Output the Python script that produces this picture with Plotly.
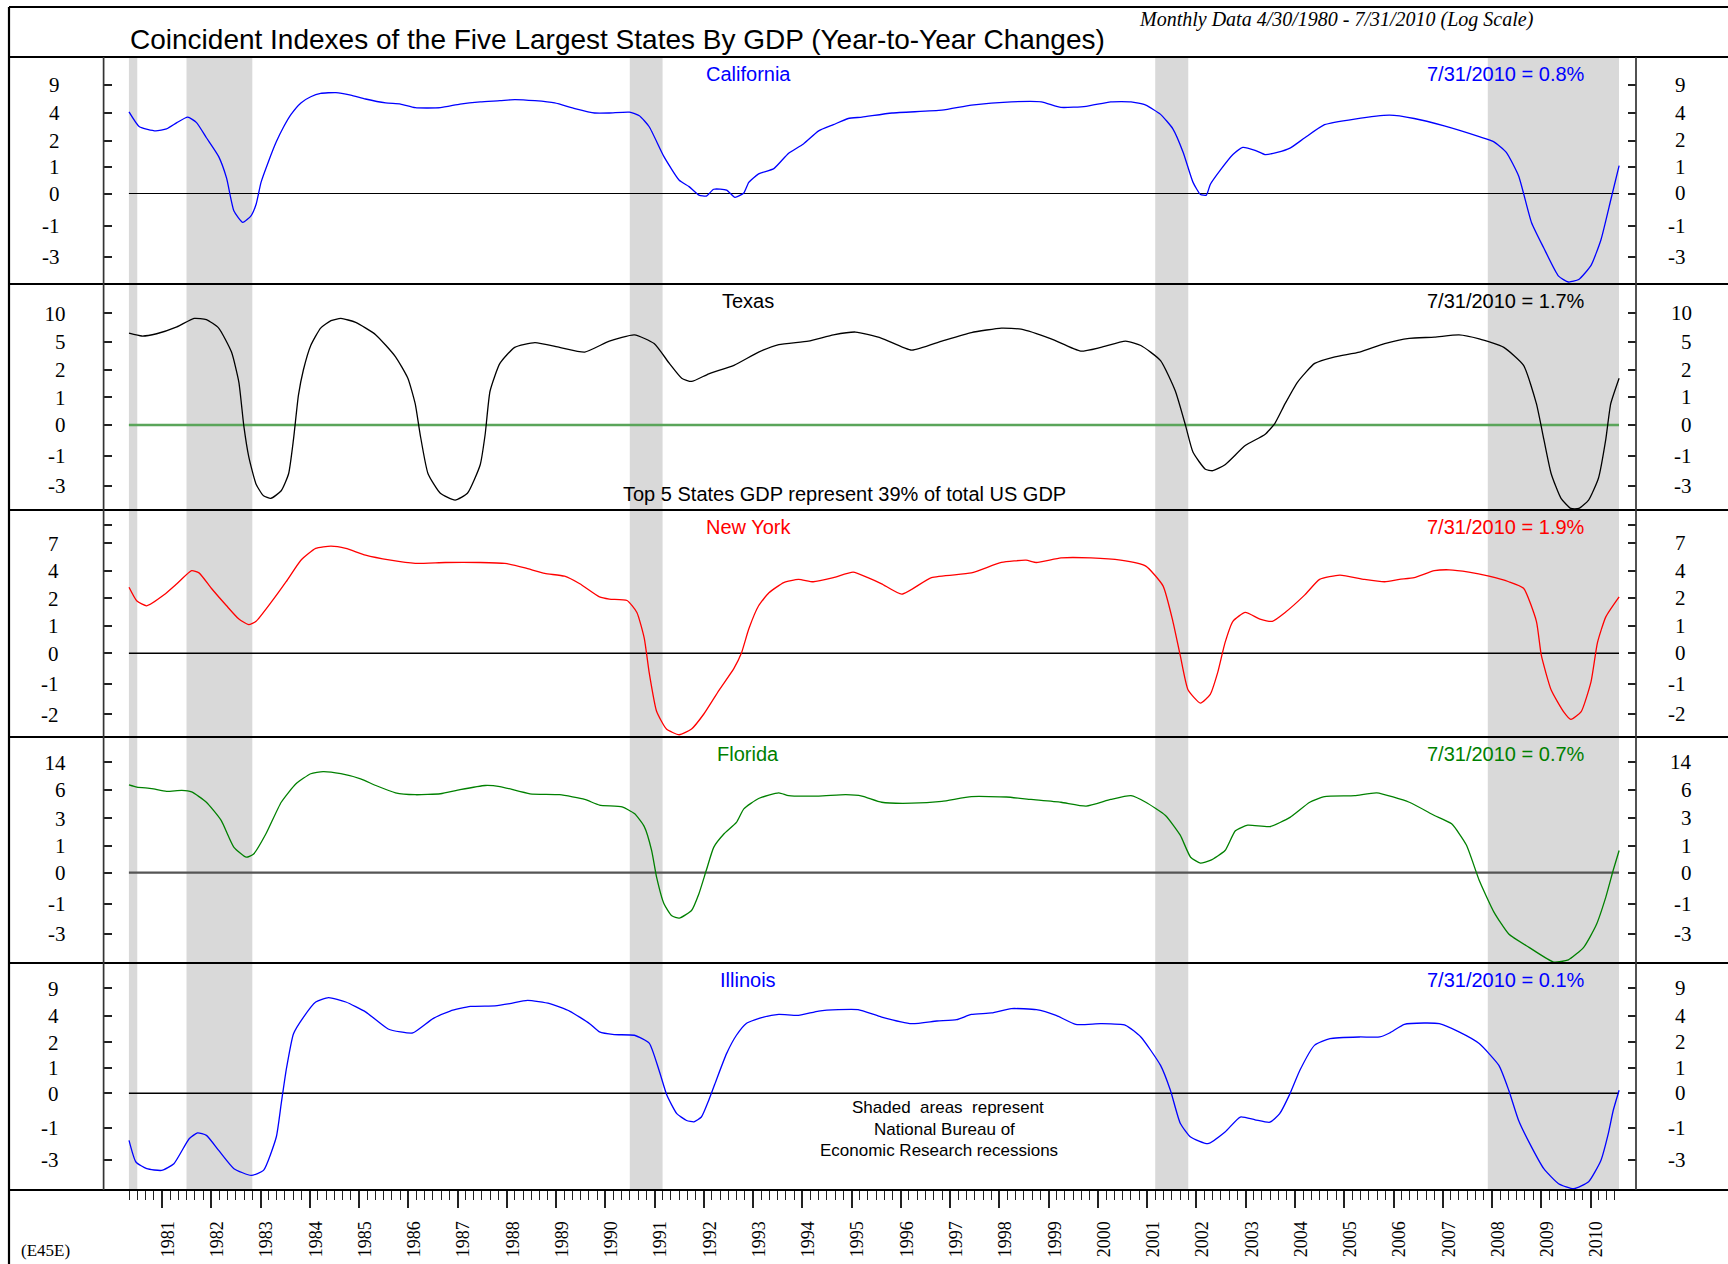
import numpy as np
import pandas as pd
import plotly.graph_objects as go

# ---------------- values: decimal year -> y/y % change ----------------
CA_YEAR = [1980.33, 1980.54, 1980.87, 1981.09, 1981.30, 1981.52, 1981.70, 1981.90, 1982.15, 1982.31,
           1982.46, 1982.64, 1982.81, 1982.91, 1983.01, 1983.16, 1983.32, 1983.47, 1983.62, 1983.82,
           1984.02, 1984.22, 1984.53, 1984.83, 1985.13, 1985.54, 1985.84, 1986.14, 1986.65, 1987.05,
           1987.46, 1987.86, 1988.16, 1988.57, 1988.97, 1989.38, 1989.78, 1990.08, 1990.49, 1990.69,
           1990.89, 1991.19, 1991.50, 1991.70, 1991.90, 1992.05, 1992.20, 1992.46, 1992.63, 1992.81,
           1992.91, 1993.11, 1993.42, 1993.72, 1994.02, 1994.33, 1994.63, 1994.93, 1995.21, 1995.82,
           1996.83, 1997.43, 1998.24, 1998.85, 1999.25, 1999.76, 2000.26, 2000.67, 2000.97, 2001.27,
           2001.52, 2001.73, 2001.93, 2002.08, 2002.20, 2002.28, 2002.48, 2002.74, 2002.94, 2003.19,
           2003.39, 2003.64, 2003.90, 2004.20, 2004.60, 2005.21, 2005.92, 2006.42, 2007.03, 2007.74,
           2008.04, 2008.29, 2008.54, 2008.80, 2009.05, 2009.35, 2009.55, 2009.76, 2010.01, 2010.21,
           2010.41, 2010.58]
CA_VALUE = [4.2, 3.0, 2.7, 2.85, 3.3, 3.7, 3.3, 2.2, 1.39, 0.58,
            -0.54, -0.89, -0.68, -0.33, 0.42, 1.2, 1.95, 3.0, 3.9, 5.8,
            6.9, 7.5, 7.65, 7.2, 6.5, 5.8, 5.6, 4.95, 4.95, 5.6,
            6.0, 6.2, 6.4, 6.2, 5.8, 4.8, 4.0, 4.0, 4.15, 3.8,
            3.0, 1.39, 0.5, 0.26, -0.05, -0.08, 0.16, 0.13, -0.12, 0.02,
            0.42, 0.74, 0.94, 1.52, 1.87, 2.7, 3.15, 3.6, 3.7, 4.0,
            4.5, 5.4, 6.0, 6.0, 5.0, 5.2, 6.0, 6.0, 5.4, 3.9,
            2.85, 1.55, 0.42, -0.03, -0.05, 0.34, 0.87, 1.47, 1.74, 1.63,
            1.47, 1.55, 1.71, 2.2, 3.15, 3.56, 3.84, 3.6, 3.06, 2.28,
            1.95, 1.55, 0.66, -0.89, -2.42, -5.3, -6.0, -5.7, -4.0, -1.9,
            -0.2, 1.05]

TX_YEAR = [1980.33, 1980.59, 1980.89, 1981.30, 1981.65, 1981.90, 1982.15, 1982.41, 1982.56, 1982.66,
           1982.76, 1982.91, 1983.06, 1983.21, 1983.42, 1983.57, 1983.67, 1983.77, 1983.87, 1984.02,
           1984.22, 1984.43, 1984.63, 1984.93, 1985.34, 1985.74, 1985.99, 1986.14, 1986.24, 1986.40,
           1986.65, 1986.95, 1987.20, 1987.46, 1987.56, 1987.66, 1987.86, 1988.16, 1988.57, 1989.07,
           1989.58, 1990.08, 1990.59, 1990.99, 1991.30, 1991.55, 1991.75, 1992.10, 1992.61, 1993.11,
           1993.52, 1994.12, 1994.63, 1995.08, 1995.61, 1996.22, 1996.83, 1997.43, 1998.04, 1998.44,
           1999.05, 1999.65, 2000.06, 2000.56, 2000.87, 2001.27, 2001.57, 2001.78, 2001.93, 2002.18,
           2002.33, 2002.58, 2002.99, 2003.39, 2003.59, 2003.80, 2004.05, 2004.40, 2004.81, 2005.31,
           2005.82, 2006.32, 2006.83, 2007.33, 2007.74, 2008.24, 2008.64, 2008.90, 2009.05, 2009.20,
           2009.40, 2009.60, 2009.76, 2009.96, 2010.16, 2010.31, 2010.41, 2010.58]
TX_VALUE = [6.5, 6.0, 6.4, 7.6, 9.1, 8.9, 7.4, 3.9, 1.55, -0.03,
            -1.06, -2.9, -4.2, -4.5, -3.6, -2.2, -0.46, 1.08, 2.0, 4.6,
            7.4, 8.7, 9.1, 8.4, 6.2, 3.4, 1.7, 0.76, -0.31, -2.2,
            -3.9, -4.7, -3.9, -1.6, -0.31, 1.23, 2.7, 4.4, 4.9, 4.4,
            3.9, 5.1, 6.2, 4.8, 2.7, 1.7, 1.58, 1.86, 2.5, 3.9,
            4.7, 5.1, 6.2, 6.7, 5.6, 4.1, 5.1, 6.6, 7.4, 7.2,
            5.5, 4.0, 4.4, 5.1, 4.6, 3.0, 1.23, -0.03, -0.89, -1.9,
            -2.0, -1.6, -0.67, -0.31, 0.05, 0.77, 1.55, 2.7, 3.4, 3.9,
            4.8, 5.6, 5.8, 6.2, 5.5, 4.4, 2.5, 0.77, -0.46, -2.2,
            -4.5, -5.7, -5.7, -4.7, -2.5, -0.46, 0.77, 1.7]

NY_YEAR = [1980.33, 1980.49, 1980.69, 1981.04, 1981.30, 1981.60, 1981.75, 1982.00, 1982.31, 1982.56,
           1982.76, 1982.91, 1983.21, 1983.52, 1983.82, 1984.12, 1984.43, 1984.73, 1985.13, 1985.64,
           1986.14, 1986.75, 1987.46, 1987.96, 1988.37, 1988.77, 1989.17, 1989.48, 1989.88, 1990.08,
           1990.44, 1990.64, 1990.79, 1990.89, 1991.04, 1991.24, 1991.50, 1991.75, 1992.00, 1992.31,
           1992.61, 1992.76, 1992.91, 1993.11, 1993.32, 1993.62, 1993.92, 1994.22, 1994.63, 1995.03,
           1995.33, 1995.61, 1996.02, 1996.62, 1997.43, 1998.04, 1998.54, 1998.75, 1999.25, 1999.86,
           2000.46, 2000.97, 2001.32, 2001.52, 2001.67, 2001.83, 2002.08, 2002.28, 2002.43, 2002.58,
           2002.74, 2002.99, 2003.29, 2003.54, 2003.80, 2004.20, 2004.50, 2004.91, 2005.41, 2005.82,
           2006.12, 2006.42, 2006.83, 2007.13, 2007.53, 2007.94, 2008.34, 2008.64, 2008.90, 2009.00,
           2009.20, 2009.45, 2009.60, 2009.81, 2010.01, 2010.14, 2010.31, 2010.58]
NY_VALUE = [2.8, 1.9, 1.73, 2.25, 3.05, 4.0, 3.84, 2.73, 1.73, 1.25,
            1.05, 1.17, 1.84, 3.2, 5.15, 6.45, 6.7, 6.45, 5.7, 5.15,
            4.8, 4.9, 4.9, 4.8, 4.3, 3.8, 3.6, 3.05, 2.1, 1.97,
            1.92, 1.49, 0.55, -0.63, -1.9, -2.97, -3.35, -2.97, -1.99, -1.2,
            -0.49, 0.0, 0.89, 1.73, 2.4, 3.14, 3.37, 3.2, 3.5, 3.9,
            3.5, 3.05, 2.3, 3.5, 3.84, 4.9, 5.15, 4.9, 5.4, 5.4,
            5.15, 4.5, 2.9, 1.17, -0.07, -1.2, -1.63, -1.34, -0.63, 0.39,
            1.17, 1.49, 1.25, 1.17, 1.49, 2.25, 3.37, 3.68, 3.37, 3.2,
            3.37, 3.5, 4.0, 4.1, 3.9, 3.6, 3.2, 2.73, 1.17, -0.07,
            -1.2, -1.91, -2.34, -1.91, -0.92, 0.39, 1.33, 2.1]

FL_YEAR = [1980.33, 1980.49, 1980.79, 1981.09, 1981.40, 1981.60, 1981.90, 1982.20, 1982.46, 1982.71,
           1982.86, 1983.11, 1983.42, 1983.72, 1984.02, 1984.27, 1984.63, 1985.03, 1985.34, 1985.74,
           1986.14, 1986.65, 1987.05, 1987.56, 1987.86, 1988.47, 1989.07, 1989.58, 1989.88, 1990.34,
           1990.59, 1990.79, 1990.94, 1991.04, 1991.19, 1991.35, 1991.50, 1991.75, 1991.90, 1992.05,
           1992.20, 1992.41, 1992.66, 1992.81, 1993.11, 1993.52, 1993.72, 1994.33, 1994.88, 1995.21,
           1995.61, 1996.22, 1996.83, 1997.43, 1998.14, 1998.64, 1999.25, 1999.76, 2000.26, 2000.67,
           2000.97, 2001.37, 2001.67, 2001.88, 2002.08, 2002.28, 2002.58, 2002.79, 2003.04, 2003.49,
           2003.90, 2004.30, 2004.60, 2005.21, 2005.66, 2006.32, 2006.83, 2007.18, 2007.48, 2007.74,
           2008.04, 2008.34, 2008.75, 2009.25, 2009.55, 2009.86, 2010.11, 2010.31, 2010.46, 2010.58]
FL_VALUE = [7.5, 6.85, 6.4, 5.86, 5.96, 5.8, 4.7, 2.85, 0.95, 0.58,
            0.70, 1.88, 4.7, 7.8, 10.7, 11.3, 10.7, 9.2, 7.3, 5.7,
            5.5, 5.6, 6.1, 7.3, 7.0, 5.6, 5.5, 5.0, 4.4, 4.2,
            3.5, 2.4, 0.83, -0.14, -0.99, -1.79, -1.94, -1.43, -0.67, 0.09,
            0.95, 1.88, 2.7, 4.0, 5.1, 5.7, 5.4, 5.36, 5.5, 5.36,
            4.7, 4.6, 4.8, 5.3, 5.26, 5.0, 4.7, 4.3, 5.0, 5.4,
            4.7, 3.3, 1.78, 0.58, 0.36, 0.46, 0.83, 2.1, 2.5, 2.4,
            3.1, 4.7, 5.3, 5.4, 5.7, 4.7, 3.3, 2.6, 1.07, -0.24,
            -1.54, -3.0, -4.5, -6.15, -5.9, -4.5, -2.44, -0.78, 0.09, 0.83]

IL_YEAR = [1980.33, 1980.47, 1980.69, 1980.99, 1981.24, 1981.55, 1981.72, 1981.90, 1982.15, 1982.46,
           1982.81, 1983.06, 1983.32, 1983.42, 1983.52, 1983.67, 1983.87, 1984.12, 1984.38, 1984.73,
           1985.13, 1985.59, 1985.84, 1986.09, 1986.50, 1986.85, 1987.26, 1987.76, 1988.06, 1988.42,
           1988.87, 1989.28, 1989.68, 1989.88, 1990.18, 1990.59, 1990.89, 1991.09, 1991.25, 1991.45,
           1991.65, 1991.80, 1991.95, 1992.10, 1992.25, 1992.46, 1992.66, 1992.86, 1993.21, 1993.52,
           1993.92, 1994.33, 1994.73, 1995.13, 1995.61, 1996.22, 1996.73, 1997.13, 1997.43, 1997.84,
           1998.24, 1998.75, 1999.15, 1999.55, 2000.06, 2000.56, 2000.87, 2001.27, 2001.47, 2001.67,
           2001.88, 2002.23, 2002.58, 2002.89, 2003.19, 2003.49, 2003.69, 2003.90, 2004.10, 2004.40,
           2004.71, 2005.31, 2005.72, 2005.92, 2006.22, 2006.62, 2006.93, 2007.33, 2007.74, 2008.14,
           2008.34, 2008.54, 2008.80, 2009.05, 2009.35, 2009.66, 2009.96, 2010.21, 2010.36, 2010.46,
           2010.58]
IL_VALUE = [-1.79, -3.23, -3.9, -4.07, -3.4, -1.69, -1.33, -1.48, -2.42, -3.9,
            -4.57, -4.07, -1.58, -0.3, 0.91, 2.65, 3.88, 6.5, 7.3, 6.5,
            4.7, 3.0, 2.78, 2.7, 3.78, 4.85, 5.7, 5.8, 6.2, 6.8,
            6.2, 4.8, 3.4, 2.78, 2.58, 2.53, 1.97, 0.91, -0.06, -0.59,
            -0.79, -0.83, -0.69, -0.2, 0.51, 1.56, 2.53, 3.42, 3.9, 4.24,
            4.06, 4.85, 5.1, 5.1, 3.9, 3.4, 3.6, 3.7, 4.24, 4.5,
            5.3, 5.1, 4.06, 3.35, 3.4, 3.28, 2.4, 1.1, 0.12, -0.87,
            -1.58, -2.0, -1.27, -0.69, -0.77, -0.84, -0.59, -0.01, 0.91, 1.89,
            2.28, 2.4, 2.4, 2.7, 3.35, 3.45, 3.4, 2.78, 1.95, 1.1,
            0.12, -0.79, -2.2, -3.9, -5.4, -5.9, -5.2, -3.07, -1.37, -0.5,
            0.12]

STATES = ["California", "Texas", "New York", "Florida", "Illinois"]
LATEST = ["0.8", "1.7", "1.9", "0.7", "0.1"]
YEARS = [CA_YEAR, TX_YEAR, NY_YEAR, FL_YEAR, IL_YEAR]
VALUES = [CA_VALUE, TX_VALUE, NY_VALUE, FL_VALUE, IL_VALUE]

# y tick labels of each panel (last entry = scale extension below the lowest label, no tick)
TICK_LABELS = [[9, 4, 2, 1, 0, -1, -3, -6],
               [10, 5, 2, 1, 0, -1, -3, -6],
               [7, 4, 2, 1, 0, -1, -2, -4],
               [14, 6, 3, 1, 0, -1, -3, -6],
               [9, 4, 2, 1, 0, -1, -3, -6]]
YEAR_LABELS = list(range(1981, 2011))
RECESSION_START = ["1980-04-30", "1981-07-01", "1990-07-01", "2001-03-01", "2007-12-01"]
RECESSION_END = ["1980-07-01", "1982-11-01", "1991-03-01", "2001-11-01", "2010-07-31"]
DATA_START, DATA_END = "1980-04-30", "2010-07-31"

# ---------------- geometry / style (pixels of the 1728x1264 page) ----------------
W, H = 1728, 1264
X_LEFT, X_RIGHT = 103.6, 1636.0
BOUNDS = [57, 284, 510, 737, 963, 1190]
# log-like scale: pixel row (from panel top) of each tick label
TICK_ROWS = [[28, 56, 83.5, 110, 136.5, 169, 200, 225],
             [29.3, 57.7, 86, 113.3, 141, 171.7, 201.7, 227],
             [33.3, 60.7, 88.3, 116, 143.3, 174, 204.3, 234.6],
             [25.3, 53, 81.3, 109, 135.7, 167, 197, 223.7],
             [25.3, 52.7, 79.3, 105, 130.3, 164.7, 196.7, 226.7]]
EXTRA_TICK_ROWS = [[], [], [15], [], []]
COLORS = ["#0000ff", "#000000", "#ff0000", "#008000", "#0000ff"]
ZERO_STYLE = [("#000000", 1.1), ("#5aa55a", 2.4), ("#000000", 1.4), ("#555555", 2.2), ("#000000", 1.4)]
LEFT_LABEL_EDGE = [58, 64, 57, 64, 57]
RIGHT_LABEL_EDGE = [1688, 1694, 1688, 1694, 1688]
SERIF = "Liberation Serif"
SANS = "Liberation Sans"


def xp(p):
    return p / W


def yp(p):
    return 1 - p / H


def dec_to_date(y):
    yr = int(np.floor(y))
    start = pd.Timestamp(year=yr, month=1, day=1)
    end = pd.Timestamp(year=yr + 1, month=1, day=1)
    return start + (end - start) * (y - yr)


def make_scale(labels, rows):
    lab = np.array(labels[::-1], float)
    row = np.array(rows[::-1], float)

    def f(v):
        v = np.atleast_1d(np.asarray(v, float))
        out = np.interp(v, lab, row)
        lo, hi = v < lab[0], v > lab[-1]
        out[lo] = row[0] + (v[lo] - lab[0]) * (row[1] - row[0]) / (lab[1] - lab[0])
        out[hi] = row[-1] + (v[hi] - lab[-1]) * (row[-1] - row[-2]) / (lab[-1] - lab[-2])
        return -out
    return f


fig = go.Figure()
layout_axes = {}
shapes = []
annotations = []

for s, e in zip(RECESSION_START, RECESSION_END):
    shapes.append(dict(type="rect", xref="x", yref="paper", x0=s, x1=e,
                       y0=yp(BOUNDS[-1]), y1=yp(BOUNDS[0]),
                       fillcolor="#d9d9d9", line=dict(width=0), layer="below"))

for i in range(5):
    top, bot = BOUNDS[i], BOUNDS[i + 1]
    lid, rid = 2 * i + 1, 2 * i + 2
    lref = "y" if lid == 1 else f"y{lid}"
    rref = f"y{rid}"
    scale = make_scale(TICK_LABELS[i], TICK_ROWS[i])
    tickvals = [-r for r in TICK_ROWS[i][:7]] + [-r for r in EXTRA_TICK_ROWS[i]]
    ticktext = [str(v) for v in TICK_LABELS[i][:7]] + ["" for _ in EXTRA_TICK_ROWS[i]]
    yr = [-(bot - top), 0]

    fig.add_trace(go.Scatter(
        x=[dec_to_date(v) for v in YEARS[i]], y=scale(VALUES[i]),
        xaxis="x", yaxis=lref, mode="lines",
        line=dict(color=COLORS[i], width=1.3, shape="spline", smoothing=0.5),
        hoverinfo="skip", showlegend=False))
    fig.add_trace(go.Scatter(x=[None], y=[None], xaxis="x", yaxis=rref,
                             mode="lines", showlegend=False, hoverinfo="skip"))

    common = dict(range=yr, tickmode="array", tickvals=tickvals, ticks="inside", ticklen=8,
                  tickwidth=1.5, tickcolor="#222222", showgrid=False, zeroline=False,
                  showline=False, fixedrange=True)
    layout_axes["yaxis" if lid == 1 else f"yaxis{lid}"] = dict(
        domain=[yp(bot), yp(top)], anchor="x", side="left", ticktext=ticktext,
        tickfont=dict(family=SERIF, size=21, color="black"),
        ticklabelstandoff=int(round(X_LEFT - LEFT_LABEL_EDGE[i] - 3)), **common)
    layout_axes[f"yaxis{rid}"] = dict(overlaying=lref, anchor="x", side="right",
                                      showticklabels=False, **common)

    u0 = float(scale(0)[0])
    zc, zw = ZERO_STYLE[i]
    shapes.append(dict(type="line", xref="x", yref=lref, x0=DATA_START, x1=DATA_END,
                       y0=u0, y1=u0, line=dict(color=zc, width=zw), layer="below"))

    # right-side tick labels (right aligned)
    for lab, row in zip(TICK_LABELS[i][:7], TICK_ROWS[i][:7]):
        annotations.append(dict(text=str(lab), x=xp(RIGHT_LABEL_EDGE[i]), y=yp(top + row),
                                xref="paper", yref="paper", xanchor="right", yanchor="middle",
                                showarrow=False, font=dict(family=SERIF, size=21, color="black")))
    annotations.append(dict(text=STATES[i], x=xp(748), y=yp(top + 17), xref="paper", yref="paper",
                            xanchor="center", yanchor="middle", showarrow=False,
                            font=dict(family=SANS, size=20, color=COLORS[i])))
    annotations.append(dict(text=f"7/31/2010 = {LATEST[i]}%", x=xp(1587), y=yp(top + 17),
                            xref="paper", yref="paper", xanchor="right", yanchor="middle",
                            showarrow=False, font=dict(family=SANS, size=20, color=COLORS[i])))

layout_axes["xaxis"] = dict(
    domain=[xp(X_LEFT), xp(X_RIGHT)], anchor="y9", type="date",
    range=[dec_to_date(1979.8145), dec_to_date(2010.923)],
    tickmode="array", tickvals=[pd.Timestamp(year=y, month=1, day=1) for y in YEAR_LABELS],
    ticktext=[str(y) for y in YEAR_LABELS], tickangle=-90,
    ticks="outside", ticklen=17, tickwidth=1.5, tickcolor="#222222",
    tickfont=dict(family=SERIF, size=18, color="black"),
    ticklabelstandoff=6, ticklabelshift=6,
    minor=dict(tickmode="array", tickvals=list(pd.date_range("1980-05-01", "2010-07-01", freq="2MS")),
               ticks="outside", ticklen=9, tickwidth=1.2, tickcolor="#222222", showgrid=False),
    showgrid=False, zeroline=False, showline=False, fixedrange=True)

# frame and panel rules
for yline in [7] + BOUNDS:
    shapes.append(dict(type="line", xref="paper", yref="paper", x0=xp(9), x1=1,
                       y0=yp(yline), y1=yp(yline), line=dict(color="black", width=2.2)))
shapes.append(dict(type="line", xref="paper", yref="paper", x0=xp(9), x1=xp(9),
                   y0=yp(7), y1=0, line=dict(color="black", width=2.2)))
for xline in [X_LEFT, X_RIGHT]:
    shapes.append(dict(type="line", xref="paper", yref="paper", x0=xp(xline), x1=xp(xline),
                       y0=yp(BOUNDS[0]), y1=yp(BOUNDS[-1]), line=dict(color="#333333", width=1.7)))

annotations += [
    dict(text="Coincident Indexes of the Five Largest States By GDP (Year-to-Year Changes)",
         x=xp(128), y=yp(40), xanchor="left", yanchor="middle",
         font=dict(family=SANS, size=28, color="black")),
    dict(text="<i>Monthly Data 4/30/1980 - 7/31/2010 (Log Scale)</i>",
         x=xp(1137), y=yp(20), xanchor="left", yanchor="middle",
         font=dict(family=SERIF, size=20, color="black")),
    dict(text="Top 5 States GDP represent 39% of total US GDP", x=xp(844.5), y=yp(494),
         xanchor="center", yanchor="middle", font=dict(family=SANS, size=20, color="black")),
    dict(text="Shaded\u00a0\u00a0areas\u00a0\u00a0represent", x=xp(948), y=yp(1107.7),
         xanchor="center", yanchor="middle", font=dict(family=SANS, size=17, color="black")),
    dict(text="National Bureau of", x=xp(944.5), y=yp(1129.3),
         xanchor="center", yanchor="middle", font=dict(family=SANS, size=17, color="black")),
    dict(text="Economic Research recessions", x=xp(939), y=yp(1150.3),
         xanchor="center", yanchor="middle", font=dict(family=SANS, size=17, color="black")),
    dict(text="(E45E)", x=xp(19), y=yp(1250), xanchor="left", yanchor="middle",
         font=dict(family=SERIF, size=17, color="black")),
]
for a in annotations:
    a.setdefault("xref", "paper")
    a.setdefault("yref", "paper")
    a.setdefault("showarrow", False)

fig.update_layout(
    width=W, height=H, margin=dict(l=0, r=0, t=0, b=0, pad=0),
    paper_bgcolor="white", plot_bgcolor="rgba(0,0,0,0)",
    showlegend=False, shapes=shapes, annotations=annotations, **layout_axes)

fig.write_html("out.html", config={"displayModeBar": False},
               post_script="document.body.style.margin='0';document.body.style.overflow='hidden';")
